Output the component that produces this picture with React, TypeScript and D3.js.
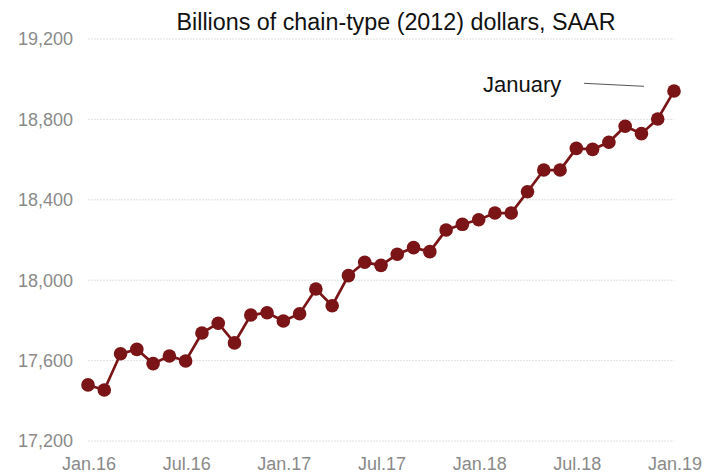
import React from "react";
import * as d3 from "d3";

const months: string[] = [
  "2016-01","2016-02","2016-03","2016-04","2016-05","2016-06","2016-07","2016-08","2016-09","2016-10","2016-11","2016-12",
  "2017-01","2017-02","2017-03","2017-04","2017-05","2017-06","2017-07","2017-08","2017-09","2017-10","2017-11","2017-12",
  "2018-01","2018-02","2018-03","2018-04","2018-05","2018-06","2018-07","2018-08","2018-09","2018-10","2018-11","2018-12",
  "2019-01",
];
const values: number[] = [
  17479, 17454, 17634, 17656, 17585, 17623, 17598, 17737, 17786, 17688, 17827, 17838,
  17797, 17833, 17956, 17873, 18023, 18089, 18074, 18129, 18162, 18142, 18250, 18278,
  18301, 18334, 18334, 18440, 18548, 18548, 18656, 18651, 18686, 18766, 18729, 18802,
  18941,
];
const yTicks: number[] = [17200, 17600, 18000, 18400, 18800, 19200];
const xTickLabels: string[] = ["Jan.16", "Jul.16", "Jan.17", "Jul.17", "Jan.18", "Jul.18", "Jan.19"];
const xTickIndex: number[] = [0, 6, 12, 18, 24, 30, 36];
const title = "Billions of chain-type (2012) dollars, SAAR";
const annotation = "January";

const W = 710;
const H = 474;
const FONT = "'Liberation Sans', Arial, Helvetica, sans-serif";
const RED = "#7a1416";

export default function App() {
  const x = d3.scaleLinear().domain([0, months.length - 1]).range([88, 674]);
  const y = d3.scaleLinear().domain([17200, 19200]).range([441, 39]);
  const line = d3
    .line<number>()
    .x((_, i) => x(i))
    .y((d) => y(d));
  const fmt = d3.format(",");
  const last = values.length - 1;

  return (
    <svg
      width={W}
      height={H}
      style={{ position: "absolute", left: 0, top: 0, background: "#fff" }}
      fontFamily={FONT}
    >
      <text x={396} y={30} textAnchor="middle" fontSize={23.3} fill="#111">
        {title}
      </text>
      {yTicks.map((t) => (
        <g key={t}>
          <line
            x1={x(0)}
            x2={x(last)}
            y1={y(t)}
            y2={y(t)}
            stroke="#e0e0e0"
            strokeWidth={1}
            strokeDasharray="2,1"
          />
          <text
            x={73}
            y={y(t)}
            dy="0.35em"
            textAnchor="end"
            fontSize={18}
            fill="#8a8a8a"
          >
            {fmt(t)}
          </text>
        </g>
      ))}
      {xTickIndex.map((idx, k) => (
        <text
          key={idx}
          x={x(idx) + 1}
          y={470}
          textAnchor="middle"
          fontSize={18}
          fill="#8a8a8a"
        >
          {xTickLabels[k]}
        </text>
      ))}
      <path d={line(values) || ""} fill="none" stroke={RED} strokeWidth={2.7} />
      {values.map((v, i) => (
        <circle key={months[i]} cx={x(i)} cy={y(v)} r={6.8} fill={RED} />
      ))}
      <text x={483} y={92} fontSize={22} fill="#111">
        {annotation}
      </text>
      <line x1={584} y1={83.3} x2={644} y2={86.3} stroke="#555" strokeWidth={1} />
    </svg>
  );
}
